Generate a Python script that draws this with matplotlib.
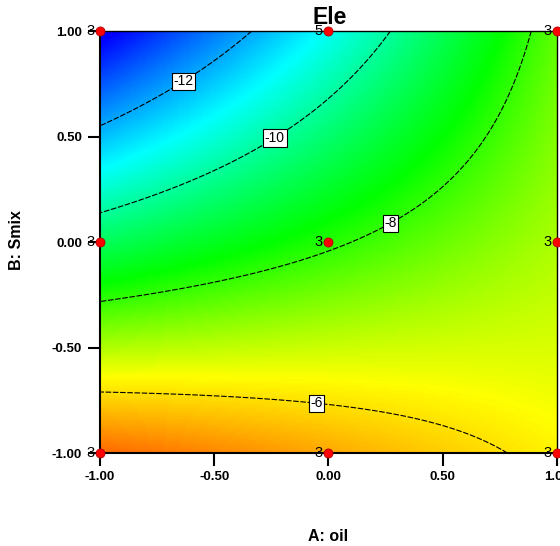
import numpy as np
import matplotlib.pyplot as plt
from matplotlib.colors import LinearSegmentedColormap

plt.rcParams["font.family"] = ["Liberation Sans", "DejaVu Sans"]

# coded factor levels
ticks = [-1.0, -0.5, 0.0, 0.5, 1.0]
tick_labels = ["-1.00", "-0.50", "0.00", "0.50", "1.00"]

# points along the Ele contours (A, B, Ele)
read_a = [-1.0, -0.78, -0.563, -0.347,
          -1.0, -0.247, -0.05, 0.096, 0.274,
          -1.0, -0.068, 0.256, 0.39, 0.685, 0.83, 0.89,
          -1.0, -0.6, -0.21, -0.05, 0.37, 0.605, 0.785]
read_b = [0.555, 0.65, 0.815, 1.0,
          0.137, 0.52, 0.626, 0.754, 1.0,
          -0.275, -0.085, 0.071, 0.175, 0.507, 0.82, 1.0,
          -0.716, -0.72, -0.758, -0.75, -0.83, -0.915, -1.0]
read_z = [-12, -12, -12, -12,
          -10, -10, -10, -10, -10,
          -8, -8, -8, -8, -8, -8, -8,
          -6, -6, -6, -6, -6, -6, -6]

# design points and their replicate counts
pts_a = [-1, 0, 1, -1, 0, 1, -1, 0, 1]
pts_b = [1, 1, 1, 0, 0, 0, -1, -1, -1]
pts_n = ["3", "5", "3", "3", "3", "3", "3", "3", "3"]

levels = [-12, -10, -8, -6]
label_pos = [(-0.65, 0.79), (-0.25, 0.52), (0.26, 0.11), (-0.05, -0.74)]

# colour ramp anchors (Ele value -> colour)
ramp_z = [-14.0, -11.0, -8.4, -6.3, -3.5]
ramp_c = ["#0000ff", "#00ffff", "#00ff00", "#ffff00", "#ff0000"]


def terms(a, b):
    a = np.asarray(a, float)
    b = np.asarray(b, float)
    return np.stack([np.ones_like(a), a, b, a * b, a ** 2, b ** 2,
                     a * b ** 2, a ** 2 * b], axis=-1)


coef, *_ = np.linalg.lstsq(terms(read_a, read_b), np.asarray(read_z, float),
                           rcond=None)

g = np.linspace(-1, 1, 201)
A, B = np.meshgrid(g, g)
Z = terms(A, B) @ coef

zmin, zmax = ramp_z[0], ramp_z[-1]
nodes = [((z - zmin) / (zmax - zmin), c) for z, c in zip(ramp_z, ramp_c)]
cmap = LinearSegmentedColormap.from_list("dx", nodes)

fig = plt.figure(figsize=(5.6, 5.46), dpi=100)
ax = fig.add_axes([0.1786, 0.1703, 0.8160, 0.7729])

ax.imshow(Z, origin="lower", extent=[-1, 1, -1, 1], cmap=cmap,
          vmin=zmin, vmax=zmax, aspect="auto", interpolation="bilinear")

cs = ax.contour(A, B, Z, levels=levels, colors="black", linewidths=0.8,
                linestyles=[(0, (5, 1.5))])
labels = ax.clabel(cs, levels, inline=False, manual=label_pos, fmt="%d",
                   fontsize=10)
for t in labels:
    t.set_rotation(0)
    t.set_bbox(dict(boxstyle="square,pad=0.12", fc="white", ec="black", lw=0.8))
    t.set_zorder(5)

ax.plot(pts_a, pts_b, "o", ms=6.5, color="#ff0000", mec="#b00000", mew=0.6,
        clip_on=False, zorder=6)
for x, y, n in zip(pts_a, pts_b, pts_n):
    ax.annotate(n, (x, y), xytext=(-4, 0), textcoords="offset points",
                ha="right", va="center", fontsize=10.5, annotation_clip=False,
                zorder=6)

ax.set_xlim(-1, 1)
ax.set_ylim(-1, 1)
ax.set_xticks(ticks)
ax.set_xticklabels(tick_labels)
ax.set_yticks(ticks)
ax.set_yticklabels(tick_labels)
ax.tick_params(direction="out", length=9, width=1.5, labelsize=9.5, pad=4)
for t in ax.get_xticklabels() + ax.get_yticklabels():
    t.set_fontweight("bold")
ax.spines["left"].set_linewidth(1.5)
ax.spines["bottom"].set_linewidth(1.5)
ax.spines["top"].set_linewidth(1.0)
ax.spines["right"].set_linewidth(1.0)

ax.set_xlabel("A: oil", fontsize=11.5, fontweight="bold")
ax.xaxis.set_label_coords(0.5, -0.197)
ax.xaxis.label.set_va("center")
ax.set_ylabel("B: Smix", fontsize=11.5, fontweight="bold")
ax.yaxis.set_label_coords(-0.182, 0.505)
ax.yaxis.label.set_va("center")

fig.text(0.589, 0.968, "Ele", ha="center", va="center", fontsize=16.5,
         fontweight="bold", zorder=10)

fig.savefig("out.png", dpi=100)
